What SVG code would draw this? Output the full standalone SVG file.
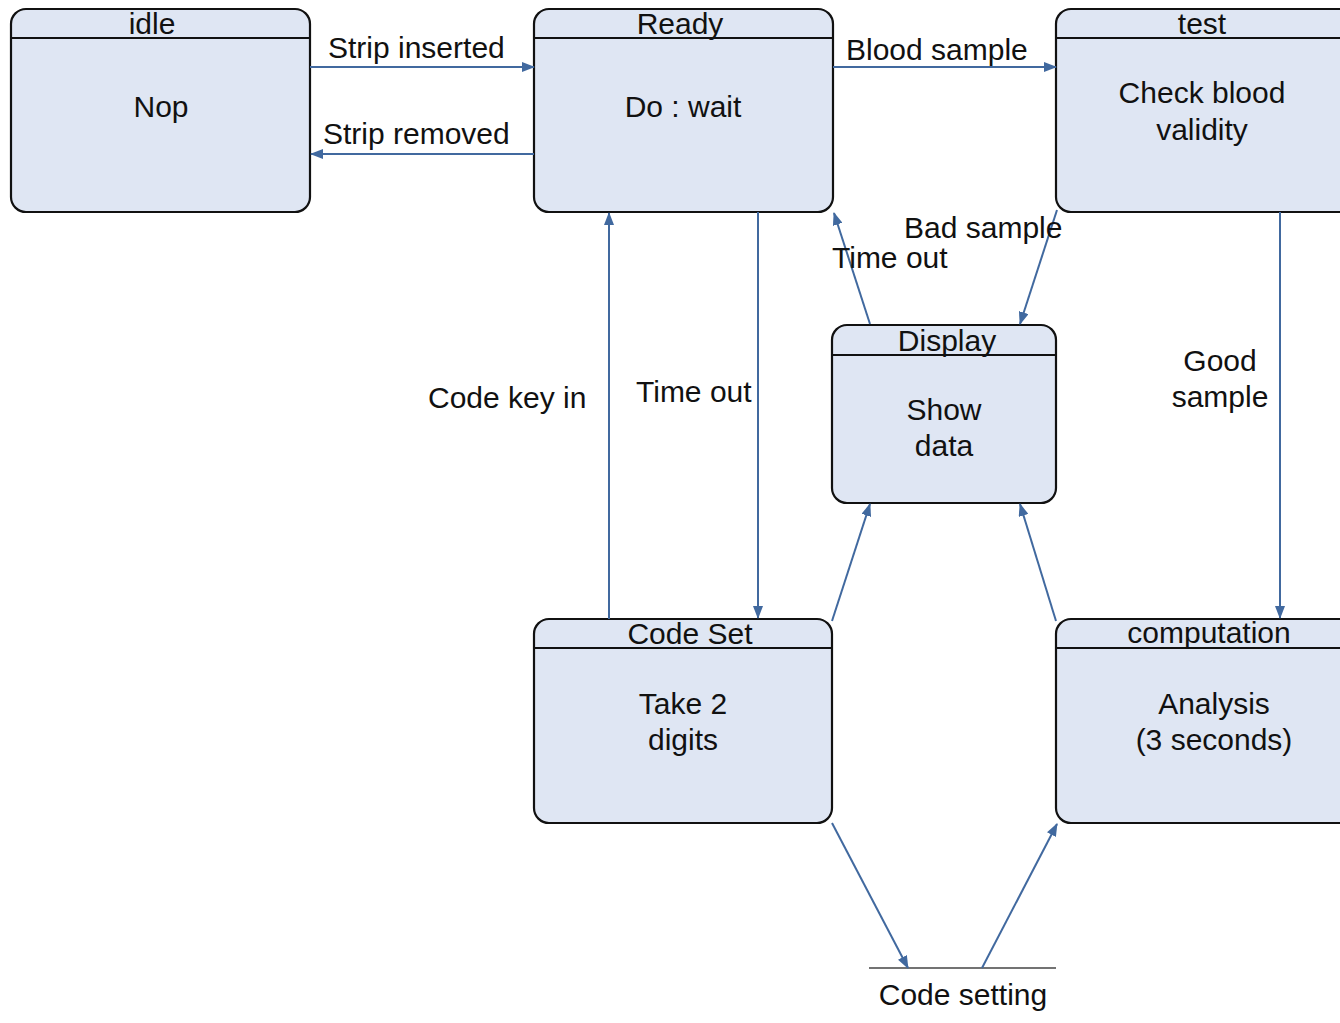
<svg xmlns="http://www.w3.org/2000/svg" width="1340" height="1023" viewBox="0 0 1340 1023">
<style>
.box{fill:#dfe6f3;stroke:#111;stroke-width:2.2}
.hl{stroke:#111;stroke-width:2.2}
text{font-family:"Liberation Sans",Arial,sans-serif;font-size:30px;fill:#111;text-anchor:middle}
.l{text-anchor:start}
.c{fill:none;stroke:#41699f;stroke-width:2;marker-end:url(#ah)}
</style>
<defs>
<marker id="ah" viewBox="0 0 13 10" refX="12" refY="5" markerWidth="13" markerHeight="10" markerUnits="userSpaceOnUse" orient="auto">
<path d="M0,0 L13,5 L0,10 Z" fill="#41699f"/>
</marker>
</defs>
<rect width="1340" height="1023" fill="#fff"/>
<g id="idle">
<rect class="box" x="11" y="9" width="299" height="203" rx="15"/>
<line class="hl" x1="11" y1="38" x2="310" y2="38"/>
<text x="152" y="34">idle</text>
<text x="161" y="117">Nop</text>
</g>
<g id="ready">
<rect class="box" x="534" y="9" width="299" height="203" rx="15"/>
<line class="hl" x1="534" y1="38" x2="833" y2="38"/>
<text x="680" y="34">Ready</text>
<text x="683" y="117">Do : wait</text>
</g>
<g id="test">
<rect class="box" x="1056" y="9" width="310" height="203" rx="15"/>
<line class="hl" x1="1056" y1="38" x2="1340" y2="38"/>
<text x="1202" y="34">test</text>
<text x="1202" y="103">Check blood</text>
<text x="1202" y="140">validity</text>
</g>
<g id="display">
<rect class="box" x="832" y="325" width="224" height="178" rx="15"/>
<line class="hl" x1="832" y1="355" x2="1056" y2="355"/>
<text x="947" y="351">Display</text>
<text x="944" y="420">Show</text>
<text x="944" y="456">data</text>
</g>
<g id="codeset">
<rect class="box" x="534" y="619" width="298" height="204" rx="15"/>
<line class="hl" x1="534" y1="648" x2="832" y2="648"/>
<text x="690" y="644">Code Set</text>
<text x="683" y="714">Take 2</text>
<text x="683" y="750">digits</text>
</g>
<g id="computation">
<rect class="box" x="1056" y="619" width="310" height="204" rx="15"/>
<line class="hl" x1="1056" y1="648" x2="1340" y2="648"/>
<text x="1209" y="643">computation</text>
<text x="1214" y="714">Analysis</text>
<text x="1214" y="750">(3 seconds)</text>
</g>
<g id="codesetting">
<line x1="869" y1="968" x2="1056" y2="968" stroke="#444" stroke-width="1.5"/>
<text x="963" y="1005">Code setting</text>
</g>
<g id="connectors">
<path class="c" d="M310,67 L534,67"/>
<path class="c" d="M534,154 L311,154"/>
<path class="c" d="M833,67 L1056,67"/>
<path class="c" d="M609,619 L609,213"/>
<path class="c" d="M758,212 L758,618"/>
<path class="c" d="M870,324 L834,213"/>
<path class="c" d="M1057,210 L1020,324"/>
<path class="c" d="M1280,212 L1280,618"/>
<path class="c" d="M832,621 L870,504"/>
<path class="c" d="M1056,621 L1020,504"/>
<path class="c" d="M832,823 L908,968"/>
<path class="c" d="M982,968 L1057,824"/>
</g>
<g id="labels">
<text class="l" x="328" y="58">Strip inserted</text>
<text class="l" x="323" y="144">Strip removed</text>
<text class="l" x="846" y="60">Blood sample</text>
<text class="l" x="904" y="238">Bad sample</text>
<text class="l" x="832" y="268">Time out</text>
<text x="1220" y="371">Good</text>
<text x="1220" y="407">sample</text>
<text class="l" x="428" y="408">Code key in</text>
<text class="l" x="636" y="402">Time out</text>
</g>
</svg>
